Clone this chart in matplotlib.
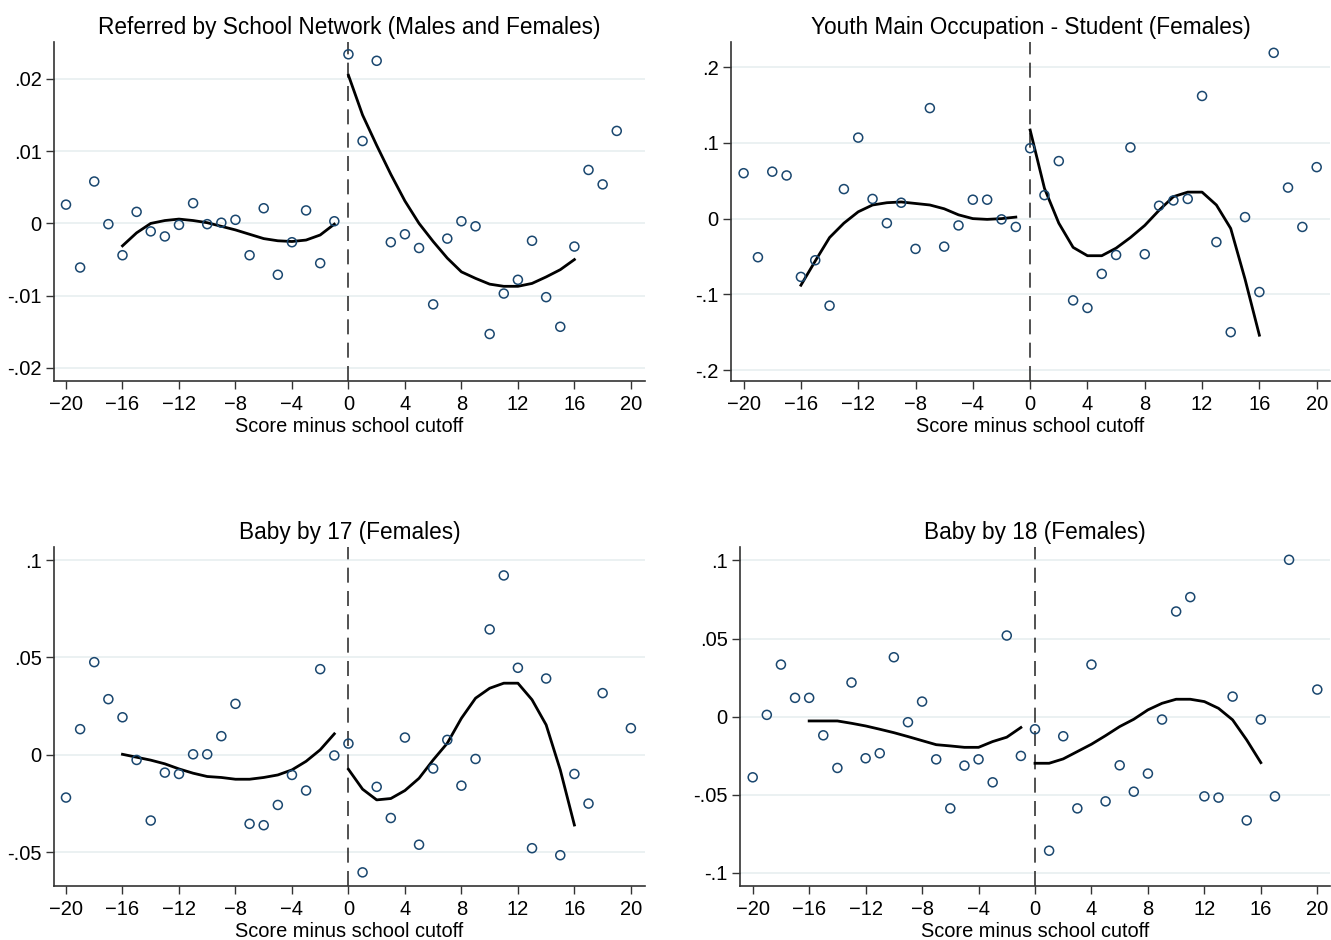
import numpy as np
import matplotlib
matplotlib.use("Agg")
import matplotlib.pyplot as plt

plt.rcParams["font.family"] = ["Liberation Sans", "DejaVu Sans"]

# ---- binned means (scatter) and fitted curves on each side of the cutoff ----
BINS_LEFT = list(range(-20, 0))
BINS_RIGHT = list(range(0, 21))
FIT_LEFT = list(range(-16, 0))
FIT_RIGHT = list(range(0, 17))

# Referred by school network (males and females)
ref_left = [0.0026, -0.0061, 0.0058, -0.0001, -0.0044, 0.0016, -0.0011, -0.0018,
            -0.0002, 0.0028, -0.0001, 0.0001, 0.0005, -0.0044, 0.0021, -0.0071,
            -0.0026, 0.0018, -0.0055, 0.0003]
ref_right = [0.0234, 0.0114, 0.0225, -0.0026, -0.0015, -0.0034, -0.0112, -0.0021,
             0.0003, -0.0004, -0.0153, -0.0097, -0.0078, -0.0024, -0.0102, -0.0143,
             -0.0032, 0.0074, 0.0054, 0.0128, np.nan]
ref_fit_left = [-0.0031, -0.0013, 0.0000, 0.0004, 0.0006, 0.0004, 0.0001, -0.0004,
                -0.0009, -0.0015, -0.0021, -0.0024, -0.0025, -0.0023, -0.0016, -0.0001]
ref_fit_right = [0.0205, 0.0150, 0.0108, 0.0068, 0.0031, 0.0000, -0.0025, -0.0048,
                 -0.0067, -0.0076, -0.0084, -0.0087, -0.0087, -0.0083, -0.0074,
                 -0.0064, -0.0050]

# Youth main occupation - student (females)
stu_left = [0.060, -0.051, 0.062, 0.057, -0.077, -0.055, -0.115, 0.039, 0.107, 0.026,
            -0.006, 0.021, -0.040, 0.146, -0.037, -0.009, 0.025, 0.025, -0.001, -0.011]
stu_right = [0.093, 0.031, 0.076, -0.108, -0.118, -0.073, -0.048, 0.094, -0.047,
             0.017, 0.024, 0.026, 0.162, -0.031, -0.150, 0.002, -0.097, 0.219, 0.041,
             -0.011, 0.068]
stu_fit_left = [-0.088, -0.056, -0.025, -0.006, 0.009, 0.018, 0.021, 0.022, 0.020,
                0.018, 0.013, 0.005, 0.000, -0.001, 0.000, 0.002]
stu_fit_right = [0.117, 0.040, -0.006, -0.038, -0.049, -0.049, -0.039, -0.025, -0.009,
                 0.011, 0.029, 0.035, 0.035, 0.018, -0.013, -0.080, -0.154]

# Baby by 17 (females)
b17_left = [-0.0219, 0.0132, 0.0476, 0.0286, 0.0193, -0.0026, -0.0337, -0.0091,
            -0.0098, 0.0003, 0.0003, 0.0096, 0.0262, -0.0354, -0.0361, -0.0257,
            -0.0103, -0.0183, 0.0440, -0.0003]
b17_right = [0.0058, -0.0603, -0.0164, -0.0324, 0.0089, -0.0461, -0.0070, 0.0077,
             -0.0158, -0.0021, 0.0644, 0.0921, 0.0447, -0.0479, 0.0392, -0.0515,
             -0.0098, -0.0250, 0.0317, np.nan, 0.0137]
b17_fit_left = [0.0003, -0.0012, -0.0027, -0.0046, -0.0072, -0.0094, -0.0111, -0.0116,
                -0.0125, -0.0125, -0.0116, -0.0103, -0.0077, -0.0033, 0.0026, 0.0108]
b17_fit_right = [-0.0074, -0.0176, -0.0231, -0.0224, -0.0183, -0.0120, -0.0026, 0.0060,
                 0.0188, 0.0291, 0.0342, 0.0368, 0.0368, 0.0283, 0.0154, -0.0077, -0.0360]

# Baby by 18 (females)
b18_left = [-0.0389, 0.0011, 0.0333, 0.0120, 0.0120, -0.0120, -0.0329, 0.0218,
            -0.0267, -0.0235, 0.0380, -0.0036, 0.0096, -0.0274, -0.0588, -0.0314,
            -0.0274, -0.0421, 0.0519, -0.0252]
b18_right = [-0.0081, -0.0859, -0.0126, -0.0588, 0.0333, -0.0543, -0.0312, -0.0481,
             -0.0365, -0.0019, 0.0673, 0.0765, -0.0511, -0.0519, 0.0128, -0.0665,
             -0.0019, -0.0511, 0.1004, np.nan, 0.0173]
b18_fit_left = [-0.0028, -0.0028, -0.0028, -0.0043, -0.0060, -0.0081, -0.0103, -0.0128,
                -0.0154, -0.0180, -0.0188, -0.0197, -0.0197, -0.0160, -0.0132, -0.0070]
b18_fit_right = [-0.0299, -0.0299, -0.0271, -0.0224, -0.0177, -0.0122, -0.0064, -0.0017,
                 0.0043, 0.0085, 0.0111, 0.0111, 0.0096, 0.0053, -0.0021, -0.0150, -0.0295]

PANELS = [
    dict(title="Referred by School Network (Males and Females)",
         left=ref_left, right=ref_right, fit_left=ref_fit_left, fit_right=ref_fit_right,
         yticks=[-0.02, -0.01, 0, 0.01, 0.02], ylim=(-0.0218, 0.0251),
         xlim=(-20.85, 21.0), rect=[54, 42, 645, 381]),
    dict(title="Youth Main Occupation - Student (Females)",
         left=stu_left, right=stu_right, fit_left=stu_fit_left, fit_right=stu_fit_right,
         yticks=[-0.2, -0.1, 0, 0.1, 0.2], ylim=(-0.2145, 0.2333),
         xlim=(-20.88, 20.93), rect=[731, 42, 1330, 381]),
    dict(title="Baby by 17 (Females)",
         left=b17_left, right=b17_right, fit_left=b17_fit_left, fit_right=b17_fit_right,
         yticks=[-0.05, 0, 0.05, 0.1], ylim=(-0.0673, 0.1067),
         xlim=(-20.85, 21.0), rect=[54, 547, 645, 886]),
    dict(title="Baby by 18 (Females)",
         left=b18_left, right=b18_right, fit_left=b18_fit_left, fit_right=b18_fit_right,
         yticks=[-0.1, -0.05, 0, 0.05, 0.1], ylim=(-0.1085, 0.1086),
         xlim=(-20.9, 20.9), rect=[740, 547, 1330, 886]),
]

W, H = 1331, 940
MARKER_EDGE = "#1a476f"
GRID_COLOR = "#e8eff0"


def stata_label(v):
    s = f"{v:g}"
    if s.startswith("0."):
        s = s[1:]
    elif s.startswith("-0."):
        s = "-" + s[2:]
    return s


fig = plt.figure(figsize=(W / 100, H / 100), dpi=100)
fig.patch.set_facecolor("white")

for p in PANELS:
    x0, y0, x1, y1 = p["rect"]
    ax = fig.add_axes([x0 / W, 1 - y1 / H, (x1 - x0) / W, (y1 - y0) / H])

    for yv in p["yticks"]:
        ax.axhline(yv, color=GRID_COLOR, lw=1.2, zorder=0)
    ax.axvline(0, color="#333333", lw=1.2, dashes=(9, 5), zorder=1)

    xs = BINS_LEFT + BINS_RIGHT
    ys = list(p["left"]) + list(p["right"])
    ax.scatter(xs, ys, s=42, facecolors="none", edgecolors=MARKER_EDGE,
               linewidths=1.1, zorder=3)
    ax.plot(FIT_LEFT, p["fit_left"], color="black", lw=2.0, zorder=2)
    ax.plot(FIT_RIGHT, p["fit_right"], color="black", lw=2.0, zorder=2)

    ax.set_xlim(*p["xlim"])
    ax.set_ylim(*p["ylim"])
    ax.set_xticks(range(-20, 21, 4))
    ax.set_yticks(p["yticks"])
    ax.set_yticklabels([stata_label(v) for v in p["yticks"]])
    ax.tick_params(axis="both", labelsize=14.5, length=5.8, width=1.0,
                   color="#333333", labelcolor="black", pad=3)
    ax.tick_params(axis="x", pad=4)
    for side in ("top", "right"):
        ax.spines[side].set_visible(False)
    for side in ("left", "bottom"):
        ax.spines[side].set_color("#333333")
        ax.spines[side].set_linewidth(1.2)
    ax.set_xlabel("Score minus school cutoff", fontsize=14.4, labelpad=2.5)
    ax.set_title(p["title"], fontsize=16.3, pad=5.5)

fig.savefig("out.png", dpi=100, facecolor="white")
